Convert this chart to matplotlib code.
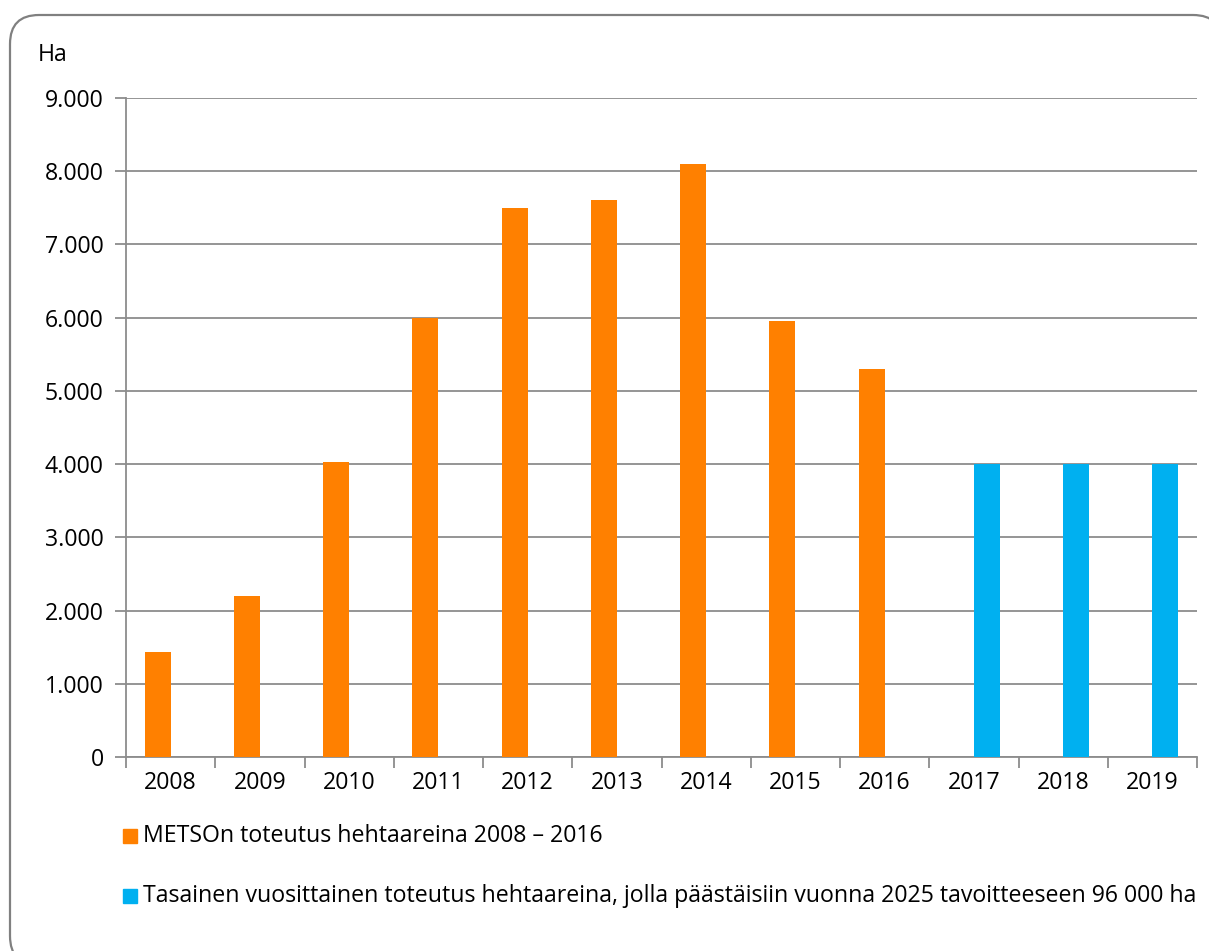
import numpy as np
import matplotlib.pyplot as plt
from matplotlib.patches import FancyBboxPatch
from matplotlib.ticker import FuncFormatter

years = ['2008', '2009', '2010', '2011', '2012', '2013', '2014', '2015', '2016', '2017', '2018', '2019']
metso = [1440, 2200, 4030, 6000, 7500, 7610, 8100, 5950, 5300, 0, 0, 0]
tasainen = [0, 0, 0, 0, 0, 0, 0, 0, 0, 4000, 4000, 4000]
lbl_metso = 'METSOn toteutus hehtaareina 2008 – 2016'
lbl_tasainen = 'Tasainen vuosittainen toteutus hehtaareina, jolla päästäisiin vuonna 2025 tavoitteeseen 96 000 ha'

plt.rcParams['font.family'] = ['Open Sans', 'DejaVu Sans']
fs = 16.7
W, H = 1209, 951
fig = plt.figure(figsize=(W / 100, H / 100), dpi=100)

# rounded frame, cut off at the right and bottom edges
frame = FancyBboxPatch((10 / W, -14 / H), 1212 / W, 950 / H, boxstyle='round,pad=0,rounding_size=0.024',
                       transform=fig.transFigure, fc='white', ec='#808080', lw=1.6,
                       mutation_aspect=W / H, zorder=-5)
fig.patches.append(frame)

ax = fig.add_axes([126 / W, 1 - 757 / H, (1197 - 126) / W, (757 - 98) / H])
ax.set_facecolor('none')
ax.set_zorder(2)
x = np.arange(len(years))
bw = 0.29
ax.bar(x - bw / 2, metso, bw, color='#FF8000', label=lbl_metso, zorder=3)
ax.bar(x + bw / 2, tasainen, bw, color='#00B0F0', label=lbl_tasainen, zorder=3)

ax.set_xlim(-0.5, len(years) - 0.5)
ax.set_ylim(0, 9000)
ax.set_yticks(np.arange(0, 9001, 1000))
ax.yaxis.set_major_formatter(FuncFormatter(lambda v, p: '0' if v == 0 else f'{int(v):,}'.replace(',', '.')))
ax.grid(axis='y', color='#8c8c8c', lw=1.3, zorder=0)
ax.set_xticks(x)
ax.set_xticklabels(years)
ax.set_xticks(np.arange(-0.5, len(years), 1), minor=True)
ax.tick_params(axis='x', which='major', length=0, pad=10, labelsize=fs)
ax.tick_params(axis='x', which='minor', length=8, width=1.3, color='#8c8c8c')
ax.tick_params(axis='y', length=8, width=1.3, color='#8c8c8c', pad=8, labelsize=fs)
for s in ['top', 'right']:
    ax.spines[s].set_visible(False)
for s in ['left', 'bottom']:
    ax.spines[s].set_color('#8c8c8c')
    ax.spines[s].set_linewidth(1.3)

fig.text(38 / W, 1 - 55 / H, 'Ha', fontsize=fs, va='center', ha='left')

# legend drawn as two rows
fig.patches.append(plt.Rectangle((123 / W, 1 - 843 / H), 14 / W, 14 / H, transform=fig.transFigure, color='#FF8000'))
fig.text(143 / W, 1 - 836 / H, lbl_metso, fontsize=fs, va='center', ha='left')
fig.patches.append(plt.Rectangle((123 / W, 1 - 903 / H), 14 / W, 14 / H, transform=fig.transFigure, color='#00B0F0'))
fig.text(143 / W, 1 - 896 / H, lbl_tasainen, fontsize=fs, va='center', ha='left')

fig.savefig('out.png', dpi=100)
